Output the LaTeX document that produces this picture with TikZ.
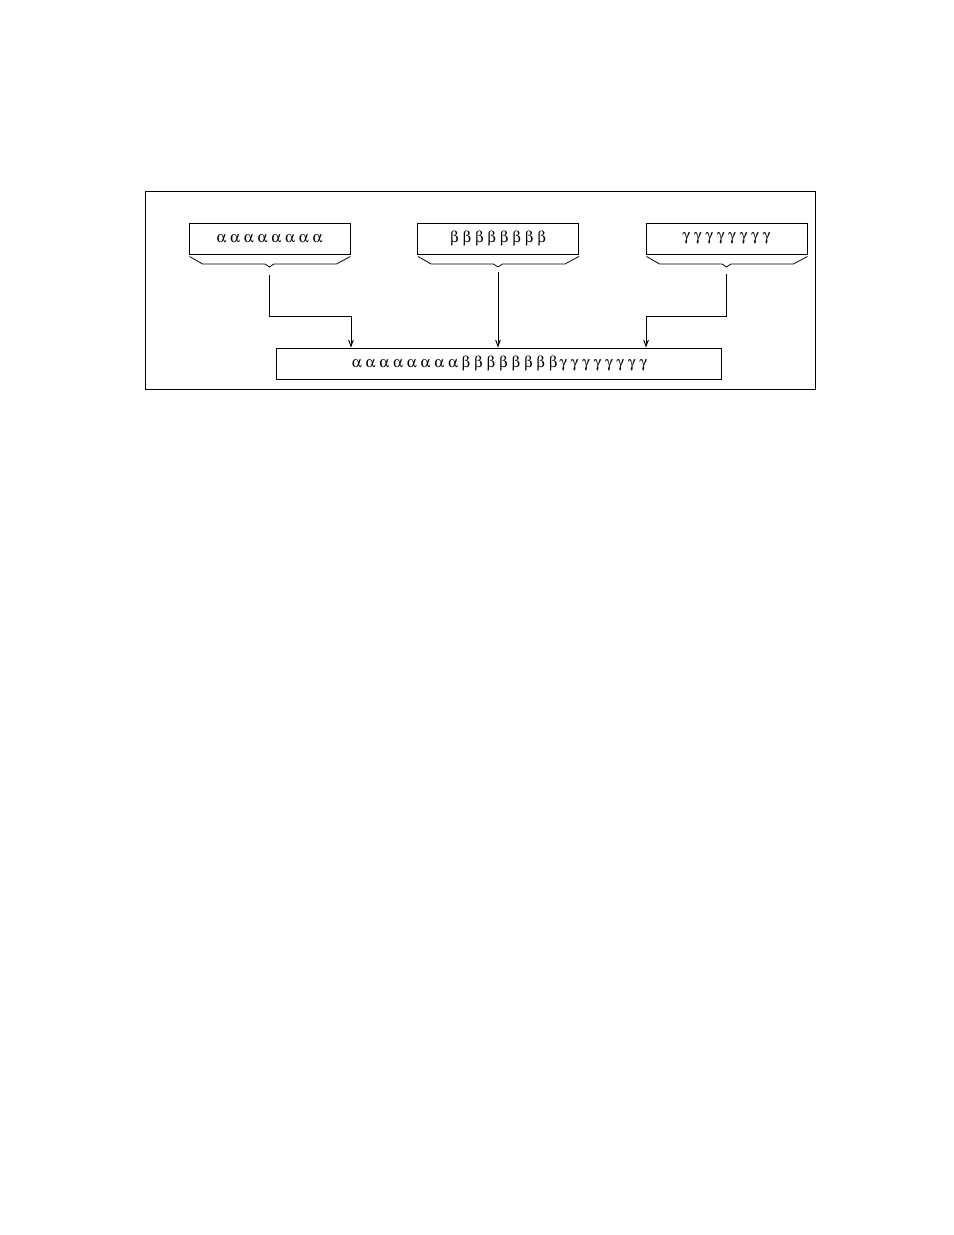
\documentclass[tikz,border=0pt]{standalone}
\usepackage{fontspec}
\setmainfont{Liberation Serif}
\usepackage[Symbol]{upgreek}
\usetikzlibrary{calc,arrows.meta}
\newcommand\ga{$\upalpha$}
\newcommand\gb{$\upbeta$}
\newcommand\gc{$\upgamma$}
\begin{document}
\begin{tikzpicture}[x=0.6415pt,y=-0.6415pt,
  line width=0.6pt,
  topbox/.style={draw,minimum width=161*0.6415pt,minimum height=31*0.6415pt,inner sep=0pt,font=\fontsize{10}{12}\selectfont},
  mainbox/.style={draw,minimum width=445*0.6415pt,minimum height=31*0.6415pt,inner sep=0pt,font=\fontsize{10}{12}\selectfont},
  arr/.style={-{Straight Barb[length=4pt,width=3pt]}},
  bracepath/.style={line width=0.5pt}]
\useasboundingbox (0,0) rectangle (954,1235);
\draw (145,191) rectangle (815,389);
\node[topbox] (a) at (269.5,238.5) {\ga{} \ga{} \ga{} \ga{} \ga{} \ga{} \ga{} \ga};
\node[topbox] (b) at (498,238.5) {\gb{} \gb{} \gb{} \gb{} \gb{} \gb{} \gb{} \gb};
\node[topbox] (g) at (726.5,238.5) {\gc{} \gc{} \gc{} \gc{} \gc{} \gc{} \gc{} \gc\hspace{8.5pt}};
\node[mainbox] (m) at (498.5,363.5) {\hspace{1.3pt}\ga{} \ga{} \ga{} \ga{} \ga{} \ga{} \ga{} \ga{} \gb{} \gb{} \gb{} \gb{} \gb{} \gb{} \gb{} \gb\hspace{1.3pt}\gc{} \gc{} \gc{} \gc{} \gc{} \gc{} \gc{} \gc};
\foreach \n in {a,b,g}{
  \draw[bracepath] ($(\n.south west)+(1,2)$) -- ++(13,7.5) -- ($(\n.south)+(-4.5,9.5)$) -- ++(4.5,3) -- ++(4.5,-3) -- ($(\n.south east)+(-14,9.5)$) -- ($(\n.south east)+(0,2)$);
}
\coordinate (as) at ($(a.south)+(0,21)$);
\coordinate (bs) at ($(b.south)+(0,18)$);
\coordinate (gs) at ($(g.south)+(0,20)$);
\coordinate (ak) at ($(a.south east)+(0.5,62)$);
\coordinate (gk) at ($(g.south west)+(0.5,62)$);
\draw[arr] (as) |- (ak) -- (ak |- m.north);
\draw[arr] (bs) -- (bs |- m.north);
\draw[arr] (gs) |- (gk) -- (gk |- m.north);
\end{tikzpicture}
\end{document}
